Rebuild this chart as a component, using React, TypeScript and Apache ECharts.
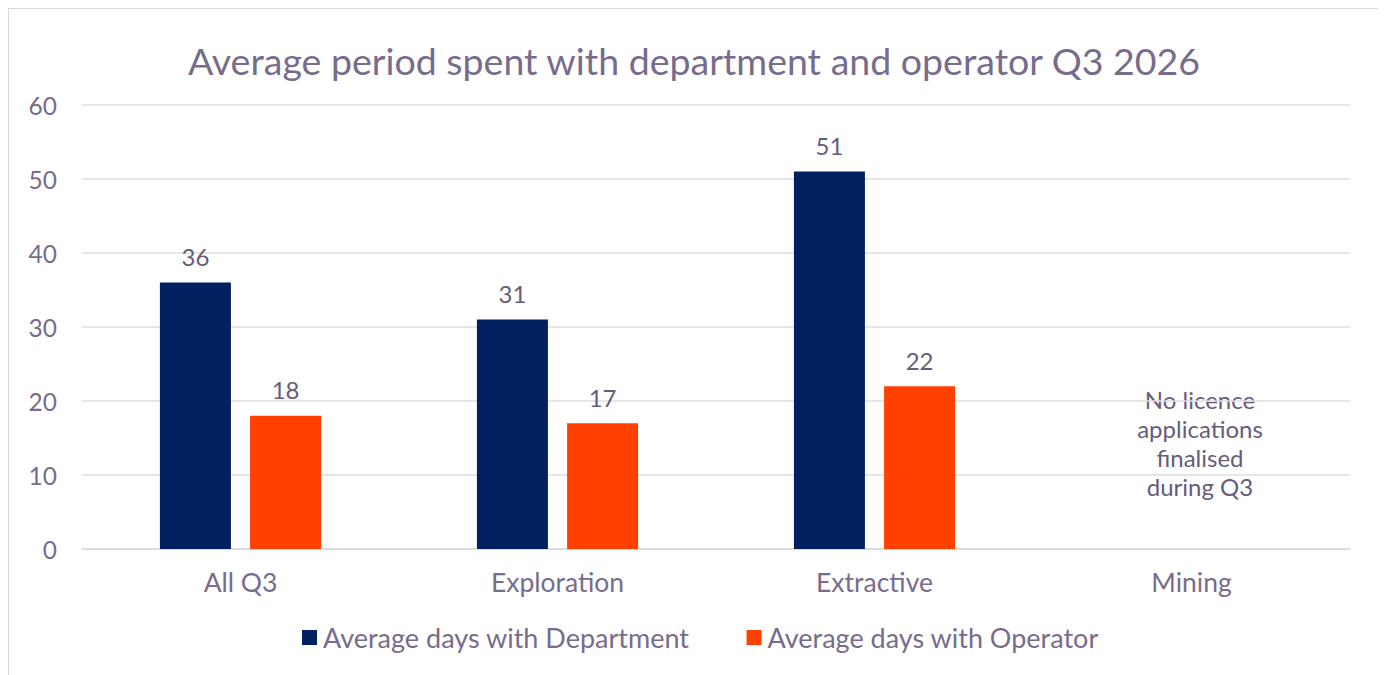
import React, { useEffect, useRef } from "react";
import * as echarts from "echarts";

const categories = ["All Q3", "Exploration", "Extractive", "Mining"];
const departmentDays = [36, 31, 51, null];
const operatorDays = [18, 17, 22, null];
const seriesNames = ["Average days with Department", "Average days with Operator"];
const titleText = "Average period spent with department and operator Q3 2026";
const miningNote = "No licence\napplications\nfinalised\nduring Q3";

const FONT = "Lato, 'Noto Sans', sans-serif";
const TEXT = "#786c8c";
const LABEL = "#675c7a";

export default function App() {
  const ref = useRef<HTMLDivElement>(null);
  useEffect(() => {
    if (!ref.current) return;
    const chart = echarts.init(ref.current, null, { renderer: "svg" });
    chart.setOption({
      animation: false,
      textStyle: { fontFamily: FONT },
      title: {
        text: titleText,
        left: "center",
        top: 27,
        textStyle: { fontFamily: FONT, fontSize: 37.5, fontWeight: "normal", color: TEXT },
      },
      grid: { left: 73, right: 29, top: 96, bottom: 138, containLabel: false },
      legend: {
        bottom: 31,
        left: 288,
        itemWidth: 15,
        itemHeight: 15,
        itemGap: 57,
        icon: "rect",
        textStyle: { fontFamily: FONT, fontSize: 27, color: TEXT, padding: [0, 0, 0, 1] },
        data: seriesNames,
      },
      xAxis: {
        type: "category",
        data: categories,
        axisLine: { lineStyle: { color: "#d9d9d9", width: 1.5 } },
        axisTick: { show: false },
        axisLabel: { fontFamily: FONT, fontSize: 26.5, color: TEXT, margin: 19 },
      },
      yAxis: {
        type: "value",
        min: 0,
        max: 60,
        interval: 10,
        axisLine: { show: false },
        axisTick: { show: false },
        splitLine: { lineStyle: { color: "#dedde3", width: 1.5 } },
        axisLabel: { fontFamily: FONT, fontSize: 24.5, color: TEXT, margin: 25 },
      },
      series: [
        {
          name: seriesNames[0],
          type: "bar",
          data: departmentDays,
          barWidth: 71,
          barGap: "27%",
          itemStyle: { color: "#002060" },
          label: { show: true, position: "top", distance: 14, fontFamily: FONT, fontSize: 24, color: LABEL },
        },
        {
          name: seriesNames[1],
          type: "bar",
          data: operatorDays,
          barWidth: 71,
          barGap: "27%",
          itemStyle: { color: "#ff4000" },
          label: { show: true, position: "top", distance: 14, fontFamily: FONT, fontSize: 24, color: LABEL },
        },
      ],
      graphic: [
        {
          type: "text",
          x: 1191,
          y: 376,
          style: {
            text: miningNote,
            textAlign: "center",
            fontFamily: FONT,
            fontSize: 24,
            lineHeight: 29,
            fill: LABEL,
          },
        },
      ],
    });
    return () => chart.dispose();
  }, []);
  return (
    <div style={{ width: 1372, height: 680, border: "1px solid #d9d9d9", boxSizing: "border-box" }}>
      <div ref={ref} style={{ width: 1370, height: 678 }} />
    </div>
  );
}
